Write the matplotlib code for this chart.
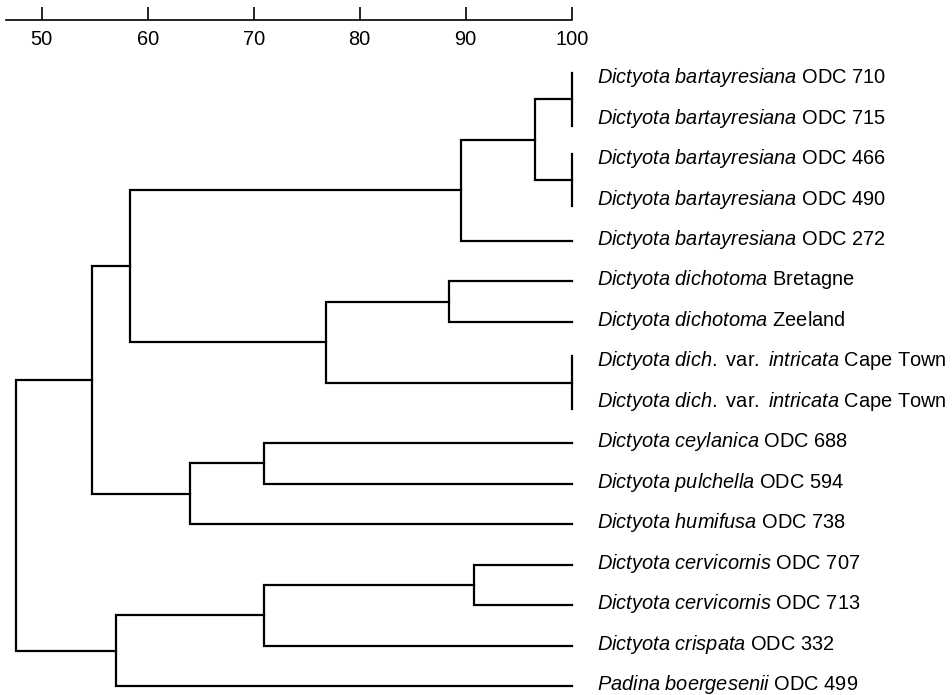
import numpy as np
import matplotlib.pyplot as plt

plt.rcParams["font.family"] = "Liberation Sans"
plt.rcParams["mathtext.fontset"] = "custom"
plt.rcParams["mathtext.it"] = "Liberation Sans:italic"
plt.rcParams["mathtext.rm"] = "Liberation Sans"

# leaves, top to bottom
leaf_labels = [
    r"$\mathit{Dictyota\ bartayresiana}$ ODC 710",
    r"$\mathit{Dictyota\ bartayresiana}$ ODC 715",
    r"$\mathit{Dictyota\ bartayresiana}$ ODC 466",
    r"$\mathit{Dictyota\ bartayresiana}$ ODC 490",
    r"$\mathit{Dictyota\ bartayresiana}$ ODC 272",
    r"$\mathit{Dictyota\ dichotoma}$ Bretagne",
    r"$\mathit{Dictyota\ dichotoma}$ Zeeland",
    r"$\mathit{Dictyota\ dich.}\ \mathrm{var.}\ \mathit{intricata}$ Cape Town",
    r"$\mathit{Dictyota\ dich.}\ \mathrm{var.}\ \mathit{intricata}$ Cape Town",
    r"$\mathit{Dictyota\ ceylanica}$ ODC 688",
    r"$\mathit{Dictyota\ pulchella}$ ODC 594",
    r"$\mathit{Dictyota\ humifusa}$ ODC 738",
    r"$\mathit{Dictyota\ cervicornis}$ ODC 707",
    r"$\mathit{Dictyota\ cervicornis}$ ODC 713",
    r"$\mathit{Dictyota\ crispata}$ ODC 332",
    r"$\mathit{Padina\ boergesenii}$ ODC 499",
]

# merges in order; ids 0-15 are leaves, merge k gets id 16 + k
merge_a = [0, 2, 16, 18, 5, 7, 20, 19, 9, 24, 23, 12, 27, 28, 26]
merge_b = [1, 3, 17, 4, 6, 8, 21, 22, 10, 11, 25, 13, 14, 15, 29]
merge_sim = [100, 100, 96.5, 89.6, 88.4, 100, 76.8, 58.3, 71.0, 64.0, 54.7, 90.8, 71.0, 57.0, 47.6]

scale_ticks = [50, 60, 70, 80, 90, 100]

# %%
W, H = 952, 695
x_lo, x_hi = 46.6, 100
px_lo, px_hi = 5.7, 571.7
top_px, bot_px = 79, 686

fig = plt.figure(figsize=(W / 100, H / 100), dpi=100)
ax = fig.add_axes([px_lo / W, 1 - bot_px / H, (px_hi - px_lo) / W, (bot_px - top_px) / H])
ax.set_xlim(x_lo, x_hi)
ax.set_ylim(len(leaf_labels) - 1, 0)
ax.axis("off")

n = len(leaf_labels)
xs = {i: 100.0 for i in range(n)}
ys = {i: float(i) for i in range(n)}
lw = 1.6

for k, (a, b, s) in enumerate(zip(merge_a, merge_b, merge_sim)):
    node = n + k
    if s >= 100:
        ax.plot([s, s], [ys[a] - 0.15, ys[b] + 0.15], color="black", lw=lw, clip_on=False)
    else:
        ax.plot([xs[a], s, s, xs[b]], [ys[a], ys[a], ys[b], ys[b]],
                color="black", lw=lw, clip_on=False, solid_joinstyle="miter")
    xs[node] = s
    ys[node] = (ys[a] + ys[b]) / 2

for i, lab in enumerate(leaf_labels):
    ax.annotate(lab, xy=(100, i), xytext=(18, 1), textcoords="offset points",
                va="center", ha="left", fontsize=14.4, annotation_clip=False)

# similarity scale on top
ax_top = fig.add_axes([px_lo / W, 1 - 20 / H, (px_hi - px_lo) / W, 0.01])
ax_top.set_xlim(x_lo, x_hi)
for side in ["top", "left", "right"]:
    ax_top.spines[side].set_visible(False)
ax_top.spines["bottom"].set_linewidth(1.2)
ax_top.set_yticks([])
ax_top.set_xticks(scale_ticks)
ax_top.set_xticklabels([str(t) for t in scale_ticks])
ax_top.tick_params(axis="x", direction="in", length=9.5, width=1.2, pad=7, labelsize=14.4)
ax_top.patch.set_visible(False)

fig.savefig("out.png", dpi=100)
